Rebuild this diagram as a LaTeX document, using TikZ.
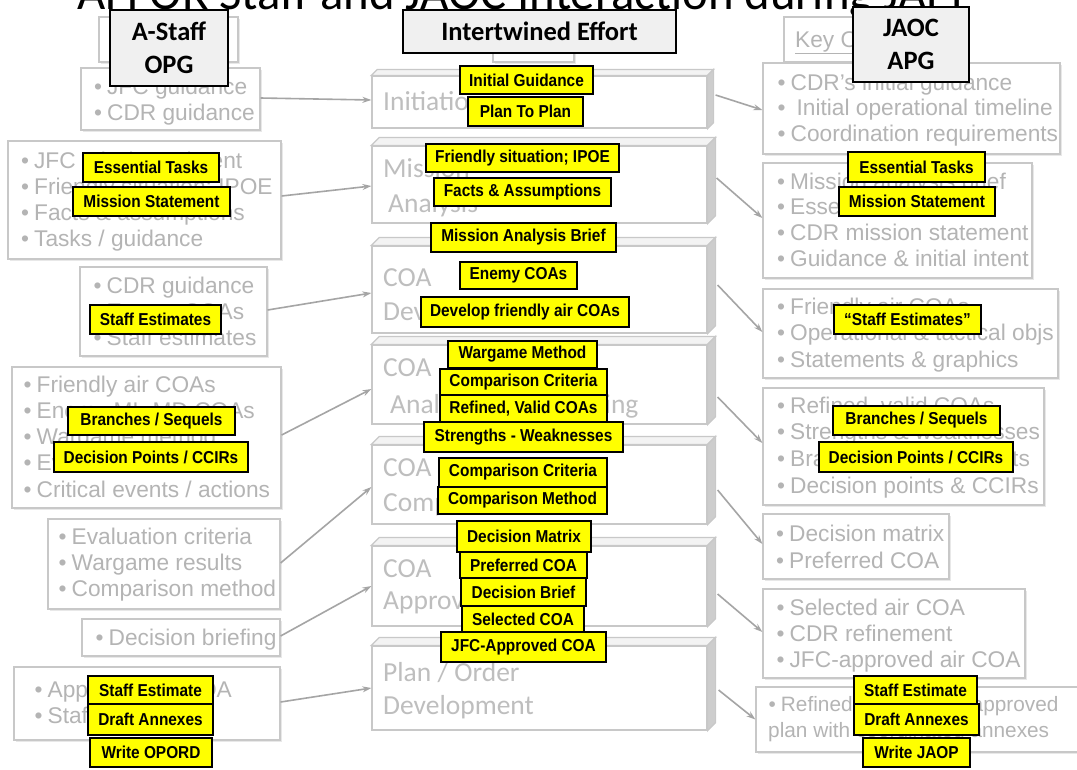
\documentclass[tikz,border=0pt]{standalone}
\usepackage{fontspec}
\usepackage{graphicx}
\setmainfont{Liberation Sans}
\newfontfamily\grayfont{Liberation Sans}
\newfontfamily\calfont{Carlito}
\usetikzlibrary{arrows.meta,calc,shadows}

\definecolor{graytext}{RGB}{180,180,180}
\definecolor{grayline}{RGB}{200,200,200}
\definecolor{phasetext}{RGB}{190,190,190}
\definecolor{arrowgray}{RGB}{165,165,165}
\definecolor{sideface}{RGB}{205,205,205}
\definecolor{topface}{RGB}{243,243,243}
\definecolor{headfill}{RGB}{240,240,240}
\definecolor{tagyellow}{RGB}{255,255,0}
\definecolor{boxshadow}{RGB}{232,232,232}

\newcommand\bul{•\hspace{5pt}}

\tikzset{
  infobox/.style={draw=grayline, line width=1.2pt, fill=white, inner sep=0pt,
    drop shadow={shadow xshift=1.5pt, shadow yshift=-1.5pt, fill=boxshadow, opacity=1}},
  infoline/.style={anchor=base west, inner sep=0pt, text=graytext,
    font=\grayfont\fontsize{22.7}{26}\selectfont},
  phaseface/.style={draw=grayline, line width=1.2pt, fill=white, inner sep=0pt,
    minimum width=335pt},
  phaselabel/.style={anchor=base west, inner sep=0pt, text=phasetext,
    font=\calfont\fontsize{27.5}{30}\selectfont},
  headbox/.style={draw=black, line width=2pt, fill=headfill, inner sep=0pt,
    align=center, font=\calfont\bfseries\fontsize{26.5}{33}\selectfont},
  tag/.style={draw=black, line width=1.5pt, fill=tagyellow, inner sep=0pt,
    font=\grayfont\bfseries\fontsize{15.4}{17}\selectfont},
  flow/.style={draw=arrowgray, line width=1.6pt, -{Stealth[length=9pt,width=6pt]}},
}

% gray bordered list box: name, cx, cy, width, height
\newcommand\listbox[5]{\node[infobox, minimum width=#4pt, minimum height=#5pt] (#1) at (#2,#3) {};}
% bulleted lines: name, x, first baseline, line spacing, items
\newcommand\listlines[5]{%
  \foreach \t [count=\i from 0] in {#5}
    \node[infoline] (#1-\i) at (#2,{#3+#4*\i}) {\bul\t};}
% raised planning-phase box: name, cy, height, depth
\newcommand\phasebox[4]{%
  \node[phaseface, minimum height=#3pt] (#1) at (539.5,#2) {};
  \draw[grayline, line width=1.2pt, fill=topface]
    (#1.north west) -- ([shift={(#4pt,#4pt)}]#1.north west)
    -- ([shift={(#4pt,#4pt)}]#1.north east) -- (#1.north east) -- cycle;
  \draw[grayline, line width=1.2pt, fill=sideface]
    (#1.north east) -- ([shift={(#4pt,#4pt)}]#1.north east)
    -- ([shift={(#4pt,#4pt)}]#1.south east) -- (#1.south east) -- cycle;}
% yellow tag: name, cx, cy, width, height, text
\newcommand\tagbox[6]{\node[tag, minimum width=#4pt, minimum height=#5pt] (#1) at (#2,#3) {\scalebox{1}[1.12]{#6}};}

\begin{document}
\begin{tikzpicture}[x=1pt,y=-1pt]
\useasboundingbox (0,0) rectangle (1077,769);
\clip (0,0) rectangle (1077,769);
\fill[white] (0,0) rectangle (1077,769);

% title line
\node[anchor=base west, inner sep=0pt] (title) at (77,9)
  {\resizebox{900pt}{!}{\calfont\fontsize{45}{50}\selectfont AFFOR Staff and JAOC Interaction during JAPP}};

% key boxes under the headers
\listbox{keyin}{168.5}{39.5}{139}{45}
\node[infoline] (keyintext) at (120,47) {\underline{Key Inputs}};
\listbox{keyout}{862}{39.5}{156}{45}
\node[infoline] (keyouttext) at (795,47) {\underline{Key Outputs}};
\listbox{keymid}{533.5}{41}{81}{42}

% A-Staff inputs
\listbox{L1}{170.5}{99}{179}{62}
\listlines{L1}{94}{94}{26}{JFC guidance,CDR guidance}
\listbox{L2}{144.5}{200}{273}{118}
\listlines{L2}{21}{168}{26}{JFC mission \& intent,Friendly situation; IPOE,Facts \& assumptions,Tasks / guidance}
\listbox{L3}{173.5}{311.5}{187}{89}
\listlines{L3}{93.5}{293}{26}{CDR guidance,Enemy COAs,Staff estimates}
\listbox{L4}{146.5}{437.5}{269}{141}
\listlines{L4}{23.5}{392}{26.25}{Friendly air COAs,Enemy ML-MD COAs,Wargame method,Evaluation criteria,Critical events / actions}
\listbox{L5}{164}{564}{232}{90}
\listlines{L5}{58.5}{544}{26}{Evaluation criteria,Wargame results,Comparison method}
\listbox{L6}{181}{637.5}{198}{37}
\listlines{L6}{95.5}{645}{26}{Decision briefing}
\listbox{L7}{147}{703.5}{266}{73}
\listlines{L7}{34.5}{697}{26}{Approved air COA,Staff estimates}

% JAOC outputs
\listbox{R1}{911.5}{108.5}{297}{91}
\listlines{R1}{777.5}{90}{25.5}{CDR’s initial guidance,\hspace{6pt}Initial operational timeline,Coordination requirements}
\listbox{R2}{897.5}{220.5}{269}{115}
\listlines{R2}{777}{189}{25.7}{Mission analysis brief,Essential tasks,CDR mission statement,Guidance \& initial intent}
\listbox{R3}{910.5}{333.5}{295}{89}
\listlines{R3}{777}{314}{26.5}{Friendly air COAs,Operational \& tactical objs,Statements \& graphics}
\listbox{R4}{903.5}{446.5}{281}{117}
\listlines{R4}{777}{413}{26.7}{{Refined, valid COAs},Strengths \& weaknesses,Branch \& sequel events,Decision points \& CCIRs}
\listbox{R5}{856}{546.5}{186}{65}
\listlines{R5}{776}{541}{27}{Decision matrix,Preferred COA}
\listbox{R6}{894}{633.5}{262}{89}
\listlines{R6}{776.5}{615}{26}{Selected air COA,CDR refinement,JFC-approved air COA}
\listbox{R7}{923}{719.5}{334}{65}
\node[infoline, font=\grayfont\fontsize{20.8}{24}\selectfont] (R7-0) at (768.5,711) {\bul Refined and JFACC-approved};
\node[infoline, font=\grayfont\fontsize{20.8}{24}\selectfont] (R7-1) at (768,737) {plan with coordinated annexes};

% headers
\node[headbox, minimum width=118pt, minimum height=76pt] (hA) at (169,48) {A-Staff\\OPG};
\node[headbox, minimum width=273pt, minimum height=43pt] (hI) at (539.5,31.5) {Intertwined Effort};
\node[headbox, minimum width=116pt, minimum height=75pt] (hJ) at (911,44.5) {JAOC\\APG};

% planning phases
\phasebox{C1}{102}{52}{6}
\node[phaselabel] (C1-0) at (383,110) {Initiation};
\phasebox{C2}{184.5}{77}{8}
\node[phaselabel] (C2-0) at (383,177) {Mission};
\node[phaselabel] (C2-1) at (388,212) {Analysis};
\phasebox{C3}{289.5}{87}{8}
\node[phaselabel] (C3-0) at (383,286) {COA};
\node[phaselabel] (C3-1) at (383,320) {Development};
\phasebox{C4}{384.5}{79}{8}
\node[phaselabel] (C4-0) at (383,376) {COA};
\node[phaselabel] (C4-1) at (390,413) {Analysis \& Wargaming};
\phasebox{C5}{484.5}{79}{8}
\node[phaselabel] (C5-0) at (383,476) {COA};
\node[phaselabel] (C5-1) at (383,511) {Comparison};
\phasebox{C6}{586}{80}{8}
\node[phaselabel] (C6-0) at (383,577) {COA};
\node[phaselabel] (C6-1) at (383,609) {Approval};
\phasebox{C7}{688}{84}{8}
\node[phaselabel] (C7-0) at (383,681) {Plan / Order};
\node[phaselabel] (C7-1) at (383,714) {Development};

% inputs flowing into the phases
\draw[flow] ([yshift=1pt]L1.east) -- ([yshift=2pt]C1.west);
\draw[flow] ([yshift=4pt]L2.east) -- ([yshift=-1.5pt]C2.west);
\draw[flow] ([yshift=1.5pt]L3.east) -- ([yshift=-3.5pt]C3.west);
\draw[flow] ([yshift=2.5pt]L4.east) -- ([yshift=-4.5pt]C4.west);
\draw[flow] ([yshift=1pt]L5.east) -- ([yshift=-2.5pt]C5.west);
\draw[flow] ([yshift=1.5pt]L6.east) -- (C6.west);
\draw[flow] ([yshift=1.5pt]L7.east) -- (C7.west);

% phase outputs
\draw[flow] ([xshift=8pt,yshift=7pt]C1.east) -- ([yshift=-1.5pt]R1.west);
\draw[flow] ([xshift=9pt,yshift=6.5pt]C2.east) -- ([yshift=2.5pt]R2.west);
\draw[flow] ([xshift=10pt,yshift=4.5pt]C3.east) -- ([yshift=1.5pt]R3.west);
\draw[flow] ([xshift=10pt,yshift=-12.5pt]C4.east) -- ([yshift=3.5pt]R4.west);
\draw[flow] ([xshift=10pt,yshift=-5.5pt]C5.east) -- ([yshift=2.5pt]R5.west);
\draw[flow] ([xshift=10pt,yshift=-8pt]C6.east) -- ([yshift=1.5pt]R6.west);
\draw[flow] ([xshift=11pt,yshift=-2pt]C7.east) -- (R7.west);

% yellow tags: centre
\tagbox{g1}{526.5}{80}{133}{28}{Initial Guidance}
\tagbox{g2}{525.5}{111.5}{115}{29}{Plan To Plan}
\tagbox{g3}{522.5}{158}{193}{28}{Friendly situation; IPOE}
\tagbox{g4}{522.5}{192}{177}{28}{Facts \& Assumptions}
\tagbox{g5}{523.5}{237.5}{185}{29}{Mission Analysis Brief}
\tagbox{g6}{518.5}{275.5}{117}{27}{Enemy COAs}
\tagbox{g7}{525}{312}{208}{30}{Develop friendly air COAs}
\tagbox{g8}{522.5}{354.5}{149}{27}{Wargame Method}
\tagbox{g9}{523.5}{382}{167}{26}{Comparison Criteria}
\tagbox{g10}{523.5}{408.5}{167}{27}{Refined, Valid COAs}
\tagbox{g11}{523.5}{437}{199}{30}{Strengths - Weaknesses}
\tagbox{g12}{523}{472.5}{168}{29}{Comparison Criteria}
\tagbox{g13}{522.5}{500.5}{169}{27}{Comparison Method}
\tagbox{g14}{524}{536.5}{134}{31}{Decision Matrix}
\tagbox{g15}{523.5}{565}{127}{26}{Preferred COA}
\tagbox{g16}{523.5}{592}{125}{28}{Decision Brief}
\tagbox{g17}{523}{619}{122}{26}{Selected COA}
\tagbox{g18}{523.5}{647}{165}{30}{JFC-Approved COA}

% yellow tags: A-Staff side
\tagbox{a1}{151}{167.5}{136}{29}{Essential Tasks}
\tagbox{a2}{151.5}{201.5}{157}{29}{Mission Statement}
\tagbox{a3}{155.5}{319.5}{131}{29}{Staff Estimates}
\tagbox{a4}{151.5}{421}{167}{28}{Branches / Sequels}
\tagbox{a5}{151}{457}{194}{30}{Decision Points / CCIRs}
\tagbox{a6}{150.5}{690}{125}{28}{Staff Estimate}
\tagbox{a7}{150.5}{719.5}{125}{31}{Draft Annexes}
\tagbox{a8}{151}{752.5}{122}{29}{Write OPORD}

% yellow tags: JAOC side
\tagbox{j1}{916.5}{167}{137}{30}{Essential Tasks}
\tagbox{j2}{917}{201.5}{156}{29}{Mission Statement}
\tagbox{j3}{907.5}{319.5}{147}{29}{“Staff Estimates”}
\tagbox{j4}{916.5}{420.5}{167}{29}{Branches / Sequels}
\tagbox{j5}{916}{457}{194}{30}{Decision Points / CCIRs}
\tagbox{j6}{915.5}{690}{123}{28}{Staff Estimate}
\tagbox{j7}{916.5}{719.5}{125}{31}{Draft Annexes}
\tagbox{j8}{916.5}{752.5}{107}{29}{Write JAOP}
\end{tikzpicture}
\end{document}
